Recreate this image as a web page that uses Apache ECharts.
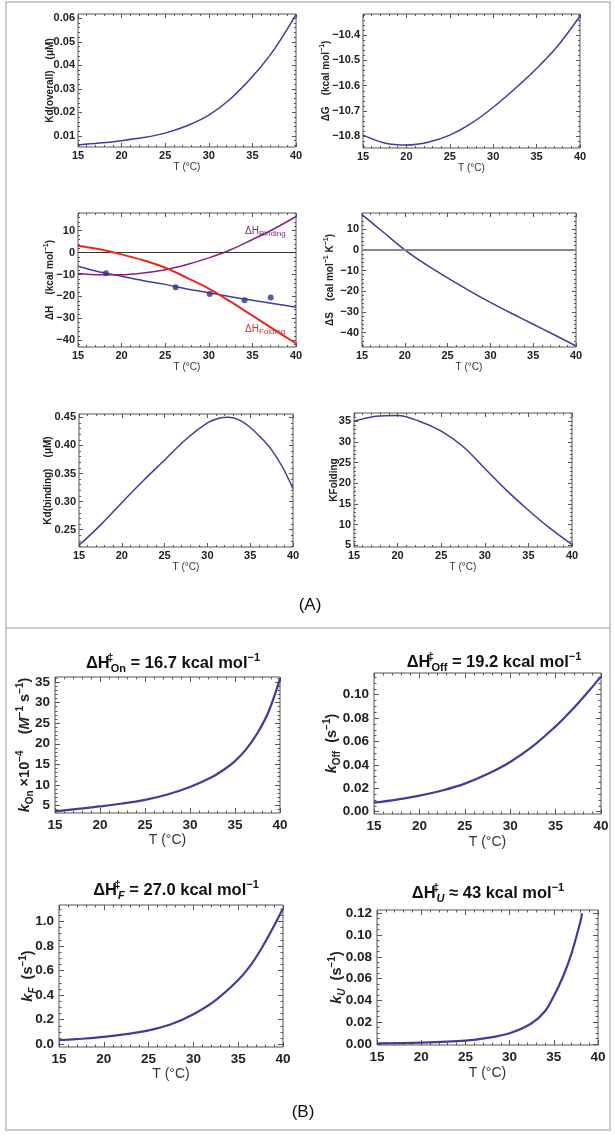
<!DOCTYPE html>
<html><head><meta charset="utf-8">
<script src="https://cdn.jsdelivr.net/npm/echarts@6/dist/echarts.min.js"></script>
<style>html,body{margin:0;padding:0;background:#fff}#c{width:615px;height:1137px}</style>
</head><body><div id="c"></div>
<script>
// ---------- data ----------
const T_A = [15, 17.5, 20, 22.5, 25, 27.5, 30, 32.5, 35, 37.5, 40];
const kdOverall = [0.0062, 0.0070, 0.0080, 0.0093, 0.0112, 0.0143, 0.0188, 0.0258, 0.0352, 0.0468, 0.0615];
const dG = [-10.795, -10.826, -10.834, -10.823, -10.795, -10.748, -10.685, -10.612, -10.532, -10.44, -10.325];
const dH_fit = [-6.2, -8.8, -10.8, -12.8, -14.5, -16.6, -18.3, -20.1, -21.7, -23.3, -24.9];
const dH_binding = [-9.5, -10.1, -10.1, -9.3, -7.8, -5.4, -2.4, 1.3, 6.0, 10.9, 16.5];
const dH_folding = [3.1, 1.5, -0.8, -3.5, -6.9, -11.5, -16.4, -22.4, -28.8, -35.2, -41.5];
const dH_expT = [18.2, 26.2, 30.1, 34.1, 37.1];
const dH_exp = [-9.4, -15.8, -18.9, -21.7, -20.5];
const dS = [17.0, 8.5, 0.0, -7.2, -13.6, -19.7, -25.4, -30.8, -36.0, -41.2, -46.5];
const T_KdB = [15, 17.5, 20, 22.5, 25, 27.5, 30, 31.25, 32.5, 33.75, 35, 36.25, 37.5, 38.75, 40];
const kdBinding = [0.222, 0.258, 0.298, 0.337, 0.374, 0.411, 0.440, 0.448, 0.450, 0.445, 0.432, 0.414, 0.392, 0.362, 0.323];
const kFolding = [35.0, 36.2, 36.4, 35.0, 32.6, 28.9, 23.6, 18.3, 13.5, 9.1, 5.2];

const T_On = [15, 17.5, 20, 22.5, 25, 27.5, 30, 32.5, 33.75, 35, 36.25, 37.5, 38.75, 40];
const kOn = [3.6, 4.2, 4.8, 5.5, 6.4, 7.7, 9.5, 12.0, 13.7, 15.8, 18.7, 22.6, 27.9, 35.8];
const T_B = [15, 17.5, 20, 22.5, 25, 27.5, 30, 32.5, 35, 36.25, 37.5, 38.75, 40];
const kOff = [0.0077, 0.0103, 0.0137, 0.0181, 0.0240, 0.0322, 0.0425, 0.0560, 0.0730, 0.0826, 0.0930, 0.1040, 0.1157];
const kF = [0.033, 0.045, 0.060, 0.083, 0.113, 0.163, 0.245, 0.360, 0.523, 0.630, 0.768, 0.930, 1.105];
const T_U = [15, 20, 25, 27.5, 30, 32.5, 34, 35, 36, 37, 38, 38.2];
const kU = [0.0005, 0.0012, 0.0030, 0.0055, 0.0098, 0.0190, 0.0300, 0.0440, 0.0610, 0.0830, 0.1120, 0.1200];

const xTicks = [15, 20, 25, 30, 35, 40];
const xTickLabels = ['15', '20', '25', '30', '35', '40'];
const yTicksKdO = [0.01, 0.02, 0.03, 0.04, 0.05, 0.06];
const yLabelsKdO = ['0.01', '0.02', '0.03', '0.04', '0.05', '0.06'];
const yTicksG = [-10.8, -10.7, -10.6, -10.5, -10.4];
const yLabelsG = ['\u221210.8', '\u221210.7', '\u221210.6', '\u221210.5', '\u221210.4'];
const yTicksHS = [-40, -30, -20, -10, 0, 10];
const yLabelsHS = ['\u221240', '\u221230', '\u221220', '\u221210', '0', '10'];
const yTicksKdB = [0.25, 0.30, 0.35, 0.40, 0.45];
const yLabelsKdB = ['0.25', '0.30', '0.35', '0.40', '0.45'];
const yTicks5 = [5, 10, 15, 20, 25, 30, 35];
const yLabels5 = ['5', '10', '15', '20', '25', '30', '35'];
const yTicksOff = [0, 0.02, 0.04, 0.06, 0.08, 0.10];
const yLabelsOff = ['0.00', '0.02', '0.04', '0.06', '0.08', '0.10'];
const yTicksF = [0, 0.2, 0.4, 0.6, 0.8, 1.0];
const yLabelsF = ['0.0', '0.2', '0.4', '0.6', '0.8', '1.0'];
const yTicksU = [0, 0.02, 0.04, 0.06, 0.08, 0.10, 0.12];
const yLabelsU = ['0.00', '0.02', '0.04', '0.06', '0.08', '0.10', '0.12'];

// ---------- style ----------
const FONT = '"Liberation Sans", Arial, sans-serif';
const BLUE = '#3e3e98', PURPLE = '#8a1f8a', RED = '#e62a22', DOT = '#27349a', FRAME = '#555';

function pairs(xs, ys) { return xs.map((x, i) => [x, ys[i]]); }
function minorTicks(min, max, step, majors) {
  const out = [];
  for (let k = Math.ceil(min / step - 1e-9); k * step <= max + 1e-12; k++) {
    const v = +(k * step).toFixed(8);
    if (!majors.some(m => Math.abs(m - v) < step * 1e-3)) out.push(v);
  }
  return out;
}
function fmt(ticks, labels) {
  return function (v) {
    for (let i = 0; i < ticks.length; i++) if (Math.abs(ticks[i] - v) < 1e-7) return labels[i];
    return '';
  };
}

const panels = [
  { box: [78, 14, 218, 133], yr: [0.0053, 0.0618], yt: yTicksKdO, yl: yLabelsKdO, ym: 0.002, big: false, xGap: 13,
    series: [{ x: T_A, y: kdOverall, color: BLUE, w: 1.5 }] },
  { box: [363, 14, 217, 134], yr: [-10.846, -10.317], yt: yTicksG, yl: yLabelsG, ym: 0.02, big: false, xGap: 12,
    series: [{ x: T_A, y: dG, color: BLUE, w: 1.5 }] },
  { box: [78, 213, 218, 134], yr: [-43.1, 18.1], yt: yTicksHS, yl: yLabelsHS, ym: 2, big: false, xGap: 13,
    zero: { color: '#333', w: 1 },
    series: [{ x: T_A, y: dH_fit, color: BLUE, w: 1.5 }, { x: T_A, y: dH_binding, color: PURPLE, w: 1.5 },
             { x: T_A, y: dH_folding, color: RED, w: 2 }],
    points: { x: dH_expT, y: dH_exp } },
  { box: [362, 213, 214, 134], yr: [-47, 17.8], yt: yTicksHS, yl: yLabelsHS, ym: 2, big: false, xGap: 13,
    zero: { color: '#888', w: 2 },
    series: [{ x: T_A, y: dS, color: BLUE, w: 1.5 }] },
  { box: [79, 414, 214, 133], yr: [0.219, 0.456], yt: yTicksKdB, yl: yLabelsKdB, ym: 0.01, big: false, xGap: 13,
    series: [{ x: T_KdB, y: kdBinding, color: BLUE, w: 1.5 }] },
  { box: [354, 413, 218, 134], yr: [4.6, 37.0], yt: yTicks5, yl: yLabels5, ym: 1, big: false, xGap: 13,
    series: [{ x: T_A, y: kFolding, color: BLUE, w: 1.5 }] },
  { box: [55, 677, 225, 136], yr: [3.2, 36.2], yt: yTicks5, yl: yLabels5, ym: 1, big: true, xGap: 20,
    series: [{ x: T_On, y: kOn, color: BLUE, w: 2.2 }] },
  { box: [374, 673, 227, 141], yr: [-0.002, 0.1186], yt: yTicksOff, yl: yLabelsOff, ym: 0.005, big: true, xGap: 21,
    series: [{ x: T_B, y: kOff, color: BLUE, w: 2.2 }] },
  { box: [59, 905, 224, 142], yr: [-0.022, 1.134], yt: yTicksF, yl: yLabelsF, ym: 0.05, big: true, xGap: 19,
    series: [{ x: T_B, y: kF, color: BLUE, w: 2.2 }] },
  { box: [377, 910, 221, 135], yr: [-0.001, 0.123], yt: yTicksU, yl: yLabelsU, ym: 0.005, big: true, xGap: 21,
    series: [{ x: T_U, y: kU, color: BLUE, w: 2.2 }] }
];

const option = { animation: false, backgroundColor: '#fff', grid: [], xAxis: [], yAxis: [], series: [], graphic: [] };

panels.forEach((p, gi) => {
  const [l, t, w, h] = p.box;
  option.grid.push({ left: l, top: t, width: w, height: h, show: true, borderColor: FRAME, borderWidth: 1,
    backgroundColor: 'rgba(0,0,0,0)' });
  const fs = p.big ? 13.5 : 11;
  const L = p.big ? 5 : 4, Lm = p.big ? 2.5 : 2;
  const xMinor = minorTicks(15, 40, 1, xTicks);
  const yMinor = minorTicks(p.yr[0], p.yr[1], p.ym, p.yt);
  const mk = (pos, min, max, ticks, len, labels) => ({
    type: 'value', gridIndex: gi, position: pos, min: min, max: max,
    axisLine: { show: false, onZero: false }, splitLine: { show: false }, minorTick: { show: false },
    axisTick: { show: true, inside: true, length: len, customValues: ticks, lineStyle: { color: FRAME, width: 1 } },
    axisLabel: labels ? { show: true, customValues: ticks, formatter: fmt(ticks, labels), fontSize: fs,
      fontWeight: 'bold', color: '#222', fontFamily: FONT, margin: p.big ? 5 : 3 } : { show: false }
  });
  const xi = option.xAxis.length, yi = option.yAxis.length;
  const xb = mk('bottom', 15, 40, xTicks, L, xTickLabels);
  xb.name = 'T (\u00B0C)'; xb.nameLocation = 'middle'; xb.nameGap = p.xGap;
  xb.nameTextStyle = { fontSize: p.big ? 14 : 10, color: '#333', fontFamily: FONT };
  option.xAxis.push(xb, mk('bottom', 15, 40, xMinor, Lm), mk('top', 15, 40, xTicks, L), mk('top', 15, 40, xMinor, Lm));
  option.yAxis.push(mk('left', p.yr[0], p.yr[1], p.yt, L, p.yl), mk('left', p.yr[0], p.yr[1], yMinor, Lm),
    mk('right', p.yr[0], p.yr[1], p.yt, L), mk('right', p.yr[0], p.yr[1], yMinor, Lm));
  p.series.forEach((s, si) => {
    const ser = { type: 'line', xAxisIndex: xi, yAxisIndex: yi, data: pairs(s.x, s.y), smooth: 0.35,
      showSymbol: false, symbol: 'none', silent: true, clip: true, z: 3 + si,
      lineStyle: { color: s.color, width: s.w }, itemStyle: { color: s.color } };
    if (si === 0 && p.zero) {
      ser.markLine = { silent: true, symbol: ['none', 'none'], label: { show: false }, animation: false,
        lineStyle: { color: p.zero.color, width: p.zero.w, type: 'solid' }, data: [{ yAxis: 0 }] };
    }
    option.series.push(ser);
  });
  if (p.points) {
    option.series.push({ type: 'scatter', xAxisIndex: xi, yAxisIndex: yi, data: pairs(p.points.x, p.points.y),
      symbolSize: 6, itemStyle: { color: DOT }, silent: true, z: 6 });
  }
});

// ---------- text (names, titles) ----------
const g = option.graphic;
g.push({ type: 'rect', silent: true, z: -10, shape: { x: 6, y: 2, width: 604, height: 1128 },
  style: { fill: 'none', stroke: '#bbb', lineWidth: 1.5 } });
g.push({ type: 'line', silent: true, z: -10, shape: { x1: 6, y1: 628, x2: 610, y2: 628 },
  style: { stroke: '#bbb', lineWidth: 1.5 } });
g.push({ type: 'text', silent: true, x: 310, y: 605, style: { text: '(A)', font: '17px ' + FONT, fill: '#111', align: 'center', verticalAlign: 'middle' } });
g.push({ type: 'text', silent: true, x: 303, y: 1112, style: { text: '(B)', font: '17px ' + FONT, fill: '#111', align: 'center', verticalAlign: 'middle' } });

const richA = {
  sup: { font: 'bold 7px ' + FONT, lineHeight: 7, verticalAlign: 'top', fill: '#222' }
};
function yName(cx, box, text, rich, font, lh) {
  g.push({ type: 'text', silent: true, x: cx, y: box[1] + box[3] / 2, rotation: Math.PI / 2,
    style: { text: text, rich: rich, font: font, lineHeight: lh, fill: '#222', align: 'center', verticalAlign: 'middle' } });
}
const fA = 'bold 10px ' + FONT;
yName(50, panels[0].box, 'Kd(overall)    (\u03BCM)', richA, fA, 14);
yName(326, panels[1].box, '\u0394G    (kcal mol{sup|\u22121})', richA, fA, 14);
yName(50, panels[2].box, '\u0394H    (kcal mol{sup|\u22121})', richA, fA, 14);
yName(330, panels[3].box, '\u0394S    (cal mol{sup|\u22121} K{sup|\u22121})', richA, fA, 14);
yName(48, panels[4].box, 'Kd(binding)    (\u03BCM)', richA, fA, 14);
yName(334, panels[5].box, 'KFolding', richA, fA, 14);

const fB = 'bold 14.5px ' + FONT;
const richB = {
  k: { font: 'italic bold 14.5px ' + FONT, lineHeight: 20, fill: '#222' },
  M: { font: 'italic bold 14.5px ' + FONT, lineHeight: 20, fill: '#222' },
  sub: { font: 'bold 10px ' + FONT, lineHeight: 10, verticalAlign: 'bottom', fill: '#222' },
  subi: { font: 'italic bold 10px ' + FONT, lineHeight: 10, verticalAlign: 'bottom', fill: '#222' },
  sup: { font: 'bold 10px ' + FONT, lineHeight: 10, verticalAlign: 'top', fill: '#222' }
};
yName(25, panels[6].box, '{k|k}{sub|On} \u00D710{sup|\u22124}    ({M|M}{sup|\u22121} s{sup|\u22121})', richB, fB, 20);
yName(332, panels[7].box, '{k|k}{sub|Off}  (s{sup|\u22121})', richB, fB, 20);
yName(28, panels[8].box, '{k|k}{subi|F}  (s{sup|\u22121})', richB, fB, 20);
yName(337, panels[9].box, '{k|k}{subi|U}  (s{sup|\u22121})', richB, fB, 20);

const richT = {
  dag: { font: 'bold 11px ' + FONT, lineHeight: 11, verticalAlign: 'top', width: 1, fill: '#111' },
  sub: { font: 'bold 11px ' + FONT, lineHeight: 11, verticalAlign: 'bottom', fill: '#111' },
  subi: { font: 'italic bold 11px ' + FONT, lineHeight: 11, verticalAlign: 'bottom', fill: '#111' },
  sup: { font: 'bold 11px ' + FONT, lineHeight: 11, verticalAlign: 'top', fill: '#111' }
};
function title(cx, cy, text) {
  g.push({ type: 'text', silent: true, x: cx, y: cy,
    style: { text: text, rich: richT, font: 'bold 16.5px ' + FONT, lineHeight: 22, fill: '#111', align: 'center', verticalAlign: 'middle' } });
}
title(173, 663, '\u0394H{dag|\u2021}{sub|On} = 16.7 kcal mol{sup|\u22121}');
title(494, 662, '\u0394H{dag|\u2021}{sub|Off} = 19.2 kcal mol{sup|\u22121}');
title(176, 890, '\u0394H{dag|\u2021}{subi|F} = 27.0 kcal mol{sup|\u22121}');
title(488, 893, '\u0394H{dag|\u2021}{subi|U} \u2248 43 kcal mol{sup|\u22121}');

// curve labels in the Delta H panel
g.push({ type: 'text', silent: true, x: 245, y: 231,
  style: { text: '\u0394H{s|Binding}', font: '10px ' + FONT, lineHeight: 13, fill: PURPLE, align: 'left', verticalAlign: 'middle',
    rich: { s: { font: '8px ' + FONT, lineHeight: 8, verticalAlign: 'bottom', fill: PURPLE } } } });
g.push({ type: 'text', silent: true, x: 245, y: 329,
  style: { text: '\u0394H{s|Folding}', font: '10px ' + FONT, lineHeight: 13, fill: RED, align: 'left', verticalAlign: 'middle',
    rich: { s: { font: '8px ' + FONT, lineHeight: 8, verticalAlign: 'bottom', fill: RED } } } });

const chart = echarts.init(document.getElementById('c'), null, { renderer: 'canvas' });
chart.setOption(option);
</script>
</body></html>
